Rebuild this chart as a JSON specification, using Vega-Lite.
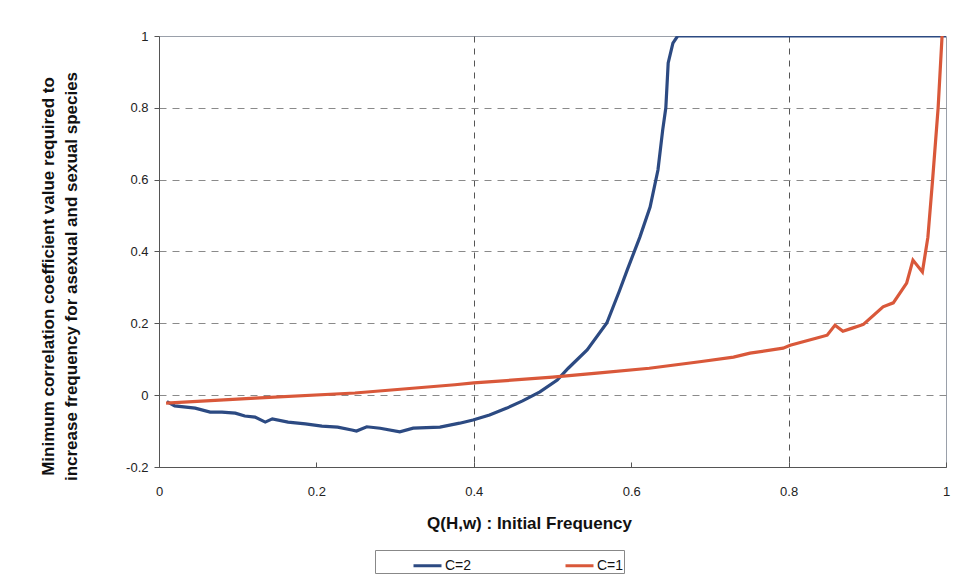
{
  "$schema": "https://vega.github.io/schema/vega-lite/v6.json",
  "width": 787,
  "height": 431,
  "autosize": "none",
  "padding": {"left": 159, "top": 36, "right": 18, "bottom": 115},
  "background": "white",
  "config": {
    "font": "Liberation Sans",
    "view": {"stroke": "#9aa0aa", "strokeWidth": 1}
  },
  "data": {
    "values": [
      {"q": 0.010, "r": -0.018, "series": "C=2"},
      {"q": 0.020, "r": -0.030, "series": "C=2"},
      {"q": 0.046, "r": -0.036, "series": "C=2"},
      {"q": 0.065, "r": -0.047, "series": "C=2"},
      {"q": 0.080, "r": -0.047, "series": "C=2"},
      {"q": 0.097, "r": -0.050, "series": "C=2"},
      {"q": 0.109, "r": -0.058, "series": "C=2"},
      {"q": 0.122, "r": -0.061, "series": "C=2"},
      {"q": 0.135, "r": -0.075, "series": "C=2"},
      {"q": 0.144, "r": -0.066, "series": "C=2"},
      {"q": 0.164, "r": -0.075, "series": "C=2"},
      {"q": 0.186, "r": -0.080, "series": "C=2"},
      {"q": 0.207, "r": -0.086, "series": "C=2"},
      {"q": 0.227, "r": -0.089, "series": "C=2"},
      {"q": 0.245, "r": -0.097, "series": "C=2"},
      {"q": 0.251, "r": -0.100, "series": "C=2"},
      {"q": 0.264, "r": -0.088, "series": "C=2"},
      {"q": 0.281, "r": -0.092, "series": "C=2"},
      {"q": 0.306, "r": -0.102, "series": "C=2"},
      {"q": 0.323, "r": -0.092, "series": "C=2"},
      {"q": 0.357, "r": -0.089, "series": "C=2"},
      {"q": 0.382, "r": -0.078, "series": "C=2"},
      {"q": 0.399, "r": -0.069, "series": "C=2"},
      {"q": 0.420, "r": -0.055, "series": "C=2"},
      {"q": 0.442, "r": -0.036, "series": "C=2"},
      {"q": 0.462, "r": -0.016, "series": "C=2"},
      {"q": 0.484, "r": 0.009, "series": "C=2"},
      {"q": 0.506, "r": 0.042, "series": "C=2"},
      {"q": 0.520, "r": 0.075, "series": "C=2"},
      {"q": 0.544, "r": 0.126, "series": "C=2"},
      {"q": 0.569, "r": 0.201, "series": "C=2"},
      {"q": 0.585, "r": 0.290, "series": "C=2"},
      {"q": 0.595, "r": 0.349, "series": "C=2"},
      {"q": 0.611, "r": 0.440, "series": "C=2"},
      {"q": 0.624, "r": 0.524, "series": "C=2"},
      {"q": 0.634, "r": 0.627, "series": "C=2"},
      {"q": 0.640, "r": 0.738, "series": "C=2"},
      {"q": 0.644, "r": 0.800, "series": "C=2"},
      {"q": 0.647, "r": 0.925, "series": "C=2"},
      {"q": 0.653, "r": 0.980, "series": "C=2"},
      {"q": 0.659, "r": 1.000, "series": "C=2"},
      {"q": 1.000, "r": 1.000, "series": "C=2"},
      {"q": 0.009, "r": -0.022, "series": "C=1"},
      {"q": 0.122, "r": -0.008, "series": "C=1"},
      {"q": 0.249, "r": 0.006, "series": "C=1"},
      {"q": 0.376, "r": 0.029, "series": "C=1"},
      {"q": 0.400, "r": 0.034, "series": "C=1"},
      {"q": 0.500, "r": 0.050, "series": "C=1"},
      {"q": 0.560, "r": 0.062, "series": "C=1"},
      {"q": 0.623, "r": 0.075, "series": "C=1"},
      {"q": 0.687, "r": 0.093, "series": "C=1"},
      {"q": 0.730, "r": 0.106, "series": "C=1"},
      {"q": 0.751, "r": 0.117, "series": "C=1"},
      {"q": 0.793, "r": 0.131, "series": "C=1"},
      {"q": 0.802, "r": 0.139, "series": "C=1"},
      {"q": 0.836, "r": 0.159, "series": "C=1"},
      {"q": 0.849, "r": 0.167, "series": "C=1"},
      {"q": 0.859, "r": 0.195, "series": "C=1"},
      {"q": 0.869, "r": 0.178, "series": "C=1"},
      {"q": 0.880, "r": 0.186, "series": "C=1"},
      {"q": 0.895, "r": 0.197, "series": "C=1"},
      {"q": 0.920, "r": 0.246, "series": "C=1"},
      {"q": 0.933, "r": 0.257, "series": "C=1"},
      {"q": 0.950, "r": 0.312, "series": "C=1"},
      {"q": 0.958, "r": 0.376, "series": "C=1"},
      {"q": 0.970, "r": 0.343, "series": "C=1"},
      {"q": 0.977, "r": 0.440, "series": "C=1"},
      {"q": 0.983, "r": 0.600, "series": "C=1"},
      {"q": 0.990, "r": 0.800, "series": "C=1"},
      {"q": 0.995, "r": 1.000, "series": "C=1"}
    ]
  },
  "mark": {"type": "line", "strokeWidth": 3.2, "clip": true},
  "encoding": {
    "x": {
      "field": "q",
      "type": "quantitative",
      "scale": {"domain": [0, 1], "nice": false, "zero": false},
      "axis": {
        "values": [0, 0.2, 0.4, 0.6, 0.8, 1],
        "labelExpr": "toString(round(datum.value*10)/10)",
        "title": "Q(H,w) : Initial Frequency",
        "titleFont": "Liberation Sans",
        "titleFontSize": 17,
        "titleFontWeight": "bold",
        "titleColor": "#111",
        "titleX": 370,
        "titleY": 56,
        "titleAlign": "center",
        "titleBaseline": "middle",
        "labelFontSize": 13,
        "labelColor": "#222",
        "labelPadding": 23,
        "labelFlush": false,
        "domainColor": "#555",
        "tickColor": "#555",
        "tickSize": -5,
        "grid": true,
        "gridColor": "#555",
        "gridDash": [6, 6],
        "gridOpacity": {"condition": {"test": "datum.value == 0.4 || datum.value == 0.8", "value": 1}, "value": 0}
      }
    },
    "y": {
      "field": "r",
      "type": "quantitative",
      "scale": {"domain": [-0.2, 1], "nice": false, "zero": false},
      "axis": {
        "values": [-0.2, 0, 0.2, 0.4, 0.6, 0.8, 1],
        "labelExpr": "toString(round(datum.value*10)/10)",
        "title": ["Minimum correlation coefficient value required to", "increase frequency for asexual and sexual species"],
        "titleFontSize": 17,
        "titleFontWeight": "bold",
        "titleColor": "#111",
        "titleLineHeight": 23,
        "titleAngle": -90,
        "titleX": -119,
        "titleY": 240,
        "titleAlign": "center",
        "titleBaseline": "top",
        "labelFontSize": 13,
        "labelColor": "#222",
        "labelPadding": 6,
        "domainColor": "#555",
        "tickColor": "#555",
        "tickSize": 5,
        "grid": true,
        "gridColor": "#8a8a8a",
        "gridDash": [7, 6],
        "gridOpacity": {"condition": {"test": "datum.value < -0.1 || datum.value > 0.9", "value": 0}, "value": 1}
      }
    },
    "color": {
      "field": "series",
      "type": "nominal",
      "scale": {"domain": ["C=2", "C=1"], "range": ["#2c4a82", "#d9583a"]},
      "legend": {
        "title": null,
        "orient": "none",
        "legendX": 216,
        "legendY": 514,
        "direction": "horizontal",
        "symbolType": "stroke",
        "symbolSize": 784,
        "symbolStrokeWidth": 3,
        "symbolOffset": 37,
        "labelFontSize": 14,
        "labelColor": "#111",
        "labelOffset": 2,
        "columnPadding": 55,
        "padding": 0,
        "strokeColor": "#888",
        "fillColor": "white"
      }
    }
  }
}
